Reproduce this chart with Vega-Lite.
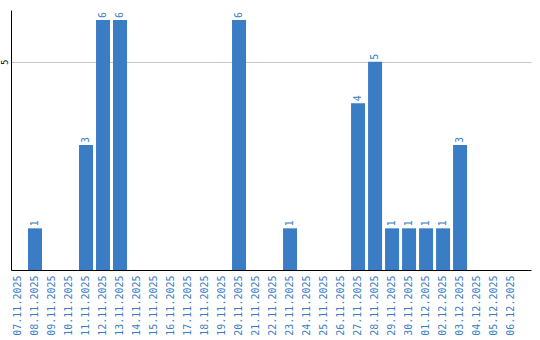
{
  "$schema": "https://vega.github.io/schema/vega-lite/v6.json",
  "width": 520,
  "height": 260,
  "autosize": {"type": "none"},
  "padding": {"left": 11, "top": 10, "right": 9, "bottom": 70},
  "background": "white",
  "config": {"view": {"stroke": null}},
  "data": {"values": [
    {"date": "07.11.2025", "count": 0},
    {"date": "08.11.2025", "count": 1},
    {"date": "09.11.2025", "count": 0},
    {"date": "10.11.2025", "count": 0},
    {"date": "11.11.2025", "count": 3},
    {"date": "12.11.2025", "count": 6},
    {"date": "13.11.2025", "count": 6},
    {"date": "14.11.2025", "count": 0},
    {"date": "15.11.2025", "count": 0},
    {"date": "16.11.2025", "count": 0},
    {"date": "17.11.2025", "count": 0},
    {"date": "18.11.2025", "count": 0},
    {"date": "19.11.2025", "count": 0},
    {"date": "20.11.2025", "count": 6},
    {"date": "21.11.2025", "count": 0},
    {"date": "22.11.2025", "count": 0},
    {"date": "23.11.2025", "count": 1},
    {"date": "24.11.2025", "count": 0},
    {"date": "25.11.2025", "count": 0},
    {"date": "26.11.2025", "count": 0},
    {"date": "27.11.2025", "count": 4},
    {"date": "28.11.2025", "count": 5},
    {"date": "29.11.2025", "count": 1},
    {"date": "30.11.2025", "count": 1},
    {"date": "01.12.2025", "count": 1},
    {"date": "02.12.2025", "count": 1},
    {"date": "03.12.2025", "count": 3},
    {"date": "04.12.2025", "count": 0},
    {"date": "05.12.2025", "count": 0},
    {"date": "06.12.2025", "count": 0}
  ]},
  "encoding": {
    "x": {
      "field": "date", "type": "nominal", "sort": null,
      "scale": {"paddingInner": 0.176, "paddingOuter": 0.38, "align": 0},
      "axis": {
        "title": null, "labelAngle": -90, "labelAlign": "right", "labelBaseline": "middle",
        "labelFont": "DejaVu Sans Mono", "labelFontSize": 10, "labelColor": "#3b7dc4",
        "labelPadding": 5, "ticks": false, "domainColor": "#000000", "domainWidth": 1, "grid": false
      }
    },
    "y": {
      "field": "count", "type": "quantitative",
      "scale": {"domain": [0, 6.24], "nice": false},
      "axis": {
        "title": null, "values": [5], "labelAngle": -90, "labelAlign": "center", "labelBaseline": "bottom",
        "labelFont": "DejaVu Sans", "labelFontSize": 8, "labelColor": "#000000", "labelPadding": 2,
        "ticks": false, "domainColor": "#000000", "domainWidth": 1,
        "grid": true, "gridColor": "#c8c8c8", "gridWidth": 1
      }
    }
  },
  "layer": [
    {"mark": {"type": "bar", "color": "#3b7dc4"}},
    {
      "transform": [{"filter": "datum.count > 0"}],
      "mark": {"type": "text", "angle": -90, "align": "left", "baseline": "middle", "dx": 2,
               "font": "DejaVu Sans Mono", "fontSize": 10, "color": "#3b7dc4"},
      "encoding": {"text": {"field": "count", "type": "quantitative"}}
    }
  ]
}
